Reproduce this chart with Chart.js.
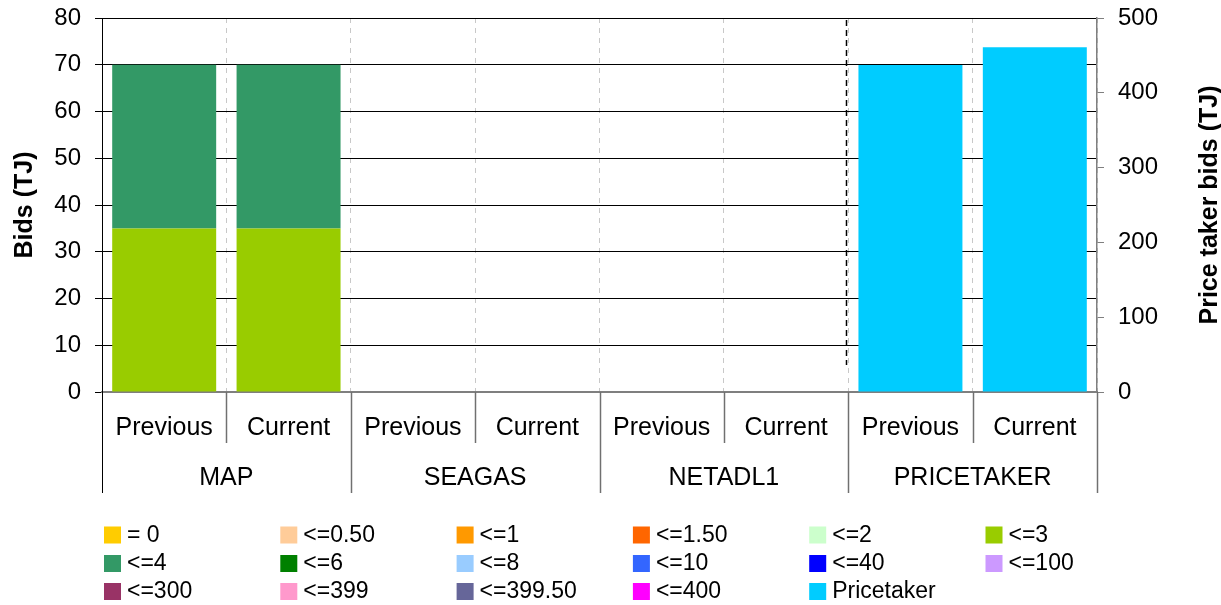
<!DOCTYPE html>
<html>
<head>
<meta charset="utf-8">
<script src="https://cdn.jsdelivr.net/npm/chart.js@4.4.1/dist/chart.umd.min.js"></script>
<style>
  body { margin: 0; background: #fff; }
</style>
</head>
<body>
<canvas id="bids" width="1221" height="605"></canvas>
<script>
// sub categories along the x axis, and the participant each pair belongs to
const categories = ['Previous', 'Current', 'Previous', 'Current', 'Previous', 'Current', 'Previous', 'Current'];
const groups = ['MAP', 'SEAGAS', 'NETADL1', 'PRICETAKER'];

// price bands (one stacked series each)
const bandNames = ['= 0', '<=0.50', '<=1', '<=1.50', '<=2', '<=3',
                   '<=4', '<=6', '<=8', '<=10', '<=40', '<=100',
                   '<=300', '<=399', '<=399.50', '<=400', 'Pricetaker'];
const bandColors = ['#FFCC00', '#FFCC99', '#FF9900', '#FF6600', '#CCFFCC', '#99CC00',
                    '#339966', '#008000', '#99CCFF', '#3366FF', '#0000FF', '#CC99FF',
                    '#993366', '#FF99CC', '#666699', '#FF00FF', '#00CCFF'];

// bid volumes (TJ)
const noBids     = [0, 0, 0, 0, 0, 0, 0, 0];
const upTo3      = [35, 35, 0, 0, 0, 0, 0, 0];
const upTo4      = [35, 35, 0, 0, 0, 0, 0, 0];
const pricetaker = [0, 0, 0, 0, 0, 0, 437, 461];   // right axis

const bandValues = [noBids, noBids, noBids, noBids, noBids, upTo3,
                    upTo4, noBids, noBids, noBids, noBids, noBids,
                    noBids, noBids, noBids, noBids, pricetaker];

const FONT = '"Liberation Sans", Arial, sans-serif';
Chart.defaults.font.family = FONT;
Chart.defaults.color = '#000';

const datasets = bandNames.map((name, i) => ({
  label: name,
  data: bandValues[i],
  backgroundColor: bandColors[i],
  borderWidth: 0,
  yAxisID: name === 'Pricetaker' ? 'y2' : 'y',
  barPercentage: 0.836,
  categoryPercentage: 1
}));

// fixed axis widths, no extra label padding above/below the value axes
const fixWidth = w => s => { s.width = w; s.paddingTop = 0; s.paddingBottom = 0; };

// separators, group names, right title and the legend grid
const extras = {
  id: 'extras',
  afterDraw(chart) {
    const ctx = chart.ctx;
    const xs = chart.scales.x;
    const area = chart.chartArea;
    const step = (area.right - area.left) / categories.length;
    ctx.save();

    // black dashed divider before the price taker pair
    const dx = Math.round(area.left + 6 * step) - 1.5;
    ctx.strokeStyle = '#000';
    ctx.lineWidth = 1.5;
    ctx.setLineDash([6, 4]);
    ctx.beginPath();
    ctx.moveTo(dx, area.top + 2);
    ctx.lineTo(dx, area.bottom - 27);
    ctx.stroke();
    ctx.setLineDash([]);

    // separators under the axis
    for (let i = 0; i <= categories.length; i++) {
      const x = Math.round(area.left + i * step) + 0.5;
      const deep = i % 2 === 0;
      ctx.strokeStyle = i === 0 ? '#000' : '#707070';
      ctx.lineWidth = i === 0 ? 1 : 1.5;
      ctx.beginPath();
      ctx.moveTo(x, i === 0 ? area.top : area.bottom);
      ctx.lineTo(x, area.bottom + (deep ? 101 : 51));
      ctx.stroke();
    }

    // group names
    ctx.fillStyle = '#000';
    ctx.font = '25px ' + FONT;
    ctx.textAlign = 'center';
    ctx.textBaseline = 'middle';
    groups.forEach((g, i) => {
      const x = (xs.getPixelForValue(2 * i) + xs.getPixelForValue(2 * i + 1)) / 2;
      ctx.fillText(g, x, area.bottom + 86);
    });

    // right axis title, reading upwards
    ctx.save();
    ctx.translate(1210, (area.top + area.bottom) / 2);
    ctx.rotate(-Math.PI / 2);
    ctx.font = 'bold 25px ' + FONT;
    ctx.fillText('Price taker bids (TJ)', 0, 0);
    ctx.restore();

    // legend: six columns, three rows
    const colW = 176.3, x0 = 104, rows = [534.5, 563, 591];
    ctx.font = '23px ' + FONT;
    ctx.textAlign = 'left';
    chart.data.datasets.forEach((ds, i) => {
      const x = x0 + (i % 6) * colW;
      const y = rows[Math.floor(i / 6)];
      ctx.fillStyle = ds.backgroundColor;
      ctx.fillRect(x, y - 8, 17, 17);
      ctx.fillStyle = '#000';
      ctx.fillText(ds.label, x + 23, y + 1);
    });
    ctx.restore();
  }
};

new Chart('bids', {
  type: 'bar',
  data: { labels: categories, datasets: datasets },
  options: {
    responsive: false,
    animation: false,
    layout: { padding: { top: 18, left: 0, right: 0, bottom: 0 } },
    plugins: { legend: { display: false }, tooltip: { enabled: false } },
    scales: {
      x: {
        stacked: true,
        afterFit: s => { s.height = 213; },
        grid: { color: '#c8c8c8', lineWidth: 1, drawTicks: false, offset: true },
        border: { display: true, color: '#7f7f7f', width: 2, dash: [5, 5] },
        ticks: { font: { size: 25 }, padding: 21, maxRotation: 0, autoSkip: false }
      },
      y: {
        stacked: true,
        position: 'left',
        min: 0, max: 80,
        afterFit: fixWidth(102),
        ticks: { stepSize: 10, font: { size: 24 }, padding: 14 },
        grid: {
          color: c => c.tick && c.tick.value === 0 ? 'rgba(0,0,0,0)' : '#000',
          lineWidth: 1, tickLength: 7, tickColor: '#000'
        },
        border: { color: '#000', width: 1 },
        title: { display: true, text: 'Bids (TJ)', font: { size: 25, weight: 'bold' }, padding: { top: 10 } }
      },
      y2: {
        stacked: true,
        position: 'right',
        min: 0, max: 500,
        afterFit: fixWidth(124),
        ticks: { stepSize: 100, font: { size: 24 }, padding: 14 },
        grid: { drawOnChartArea: false, tickLength: 7, tickColor: '#7f7f7f' },
        border: { color: '#7f7f7f', width: 1.5 }
      }
    }
  },
  plugins: [extras]
});
</script>
</body>
</html>
